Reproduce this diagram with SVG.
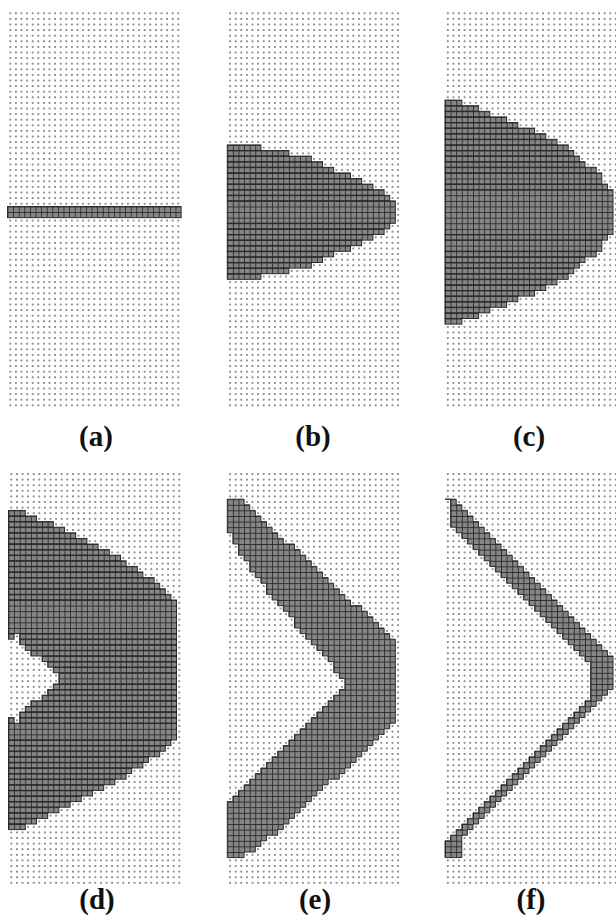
<svg xmlns="http://www.w3.org/2000/svg" width="616" height="916" viewBox="0 0 616 916">
  <defs>
    <!-- lattice point at the centre of every cell -->
    <pattern id="dots" width="1" height="1" patternUnits="userSpaceOnUse">
      <rect x=".36" y=".36" width=".28" height=".28" fill="#5a5a5a"/>
    </pattern>
    <!-- occupied cell: grey face with dark cell border -->
    <pattern id="cells" width="1" height="1" patternUnits="userSpaceOnUse">
      <rect width="1" height="1" fill="#262626"/>
      <rect x=".15" y=".15" width=".85" height=".85" fill="#858585"/>
    </pattern>
  </defs>
  <style>
    .grid{fill:url(#dots)}
    .on rect,.on path{fill:url(#cells);stroke:#262626;stroke-width:.17}
    .lbl{font-family:"Liberation Serif","Times New Roman",serif;font-weight:bold;font-size:29px;fill:#111;text-anchor:middle}
  </style>
  <rect width="616" height="916" fill="#fff"/>

  <!-- (a) initial line of cells -->
  <g id="panel-a" transform="translate(7.5,10.5) scale(5.6)">
    <rect class="grid" width="31" height="71"/>
    <g class="on">
      <rect x="0" y="35" width="31" height="2"/>
    </g>
  </g>

  <!-- (b) -->
  <g id="panel-b" transform="translate(227.3,10.5) scale(5.6)">
    <rect class="grid" width="31" height="71"/>
    <g class="on">
      <rect y="24" width="6" height="1"/>
      <rect y="25" width="11" height="1"/>
      <rect y="26" width="15" height="1"/>
      <rect y="27" width="17" height="1"/>
      <rect y="28" width="19" height="1"/>
      <rect y="29" width="22" height="1"/>
      <rect y="30" width="24" height="1"/>
      <rect y="31" width="26" height="1"/>
      <rect y="32" width="28" height="1"/>
      <rect y="33" width="29" height="1"/>
      <rect y="34" width="30" height="4"/>
      <rect y="38" width="29" height="1"/>
      <rect y="39" width="28" height="1"/>
      <rect y="40" width="26" height="1"/>
      <rect y="41" width="24" height="1"/>
      <rect y="42" width="22" height="1"/>
      <rect y="43" width="19" height="1"/>
      <rect y="44" width="17" height="1"/>
      <rect y="45" width="15" height="1"/>
      <rect y="46" width="11" height="1"/>
      <rect y="47" width="6" height="1"/>
    </g>
  </g>

  <!-- (c) -->
  <g id="panel-c" transform="translate(445,10.5) scale(5.6)">
    <rect class="grid" width="31" height="71"/>
    <g class="on">
      <rect y="16" width="3" height="1"/>
      <rect y="17" width="6" height="1"/>
      <rect y="18" width="8" height="1"/>
      <rect y="19" width="11" height="1"/>
      <rect y="20" width="13" height="1"/>
      <rect y="21" width="16" height="1"/>
      <rect y="22" width="18" height="1"/>
      <rect y="23" width="20" height="1"/>
      <rect y="24" width="22" height="1"/>
      <rect y="25" width="23" height="1"/>
      <rect y="26" width="24" height="1"/>
      <rect y="27" width="25" height="1"/>
      <rect y="28" width="27" height="1"/>
      <rect y="29" width="28" height="2"/>
      <rect y="31" width="29" height="1"/>
      <rect y="32" width="30" height="8"/>
      <rect y="40" width="29" height="1"/>
      <rect y="41" width="28" height="2"/>
      <rect y="43" width="27" height="1"/>
      <rect y="44" width="25" height="1"/>
      <rect y="45" width="24" height="1"/>
      <rect y="46" width="23" height="1"/>
      <rect y="47" width="22" height="1"/>
      <rect y="48" width="20" height="1"/>
      <rect y="49" width="18" height="1"/>
      <rect y="50" width="16" height="1"/>
      <rect y="51" width="13" height="1"/>
      <rect y="52" width="11" height="1"/>
      <rect y="53" width="8" height="1"/>
      <rect y="54" width="6" height="1"/>
      <rect y="55" width="3" height="1"/>
    </g>
  </g>

  <!-- (d) -->
  <g id="panel-d" transform="translate(8.5,471.2) scale(5.6)">
    <rect class="grid" width="31" height="74"/>
    <g class="on">
      <rect y="7" width="3" height="1"/>
      <rect y="8" width="5" height="1"/>
      <rect y="9" width="8" height="1"/>
      <rect y="10" width="10" height="1"/>
      <rect y="11" width="12" height="1"/>
      <rect y="12" width="14" height="1"/>
      <rect y="13" width="16" height="1"/>
      <rect y="14" width="18" height="1"/>
      <rect y="15" width="20" height="1"/>
      <rect y="16" width="21" height="1"/>
      <rect y="17" width="23" height="1"/>
      <rect y="18" width="24" height="1"/>
      <rect y="19" width="26" height="1"/>
      <rect y="20" width="27" height="1"/>
      <rect y="21" width="28" height="1"/>
      <rect y="22" width="29" height="1"/>
      <rect y="23" width="30" height="6"/>
      <rect x="0" y="29" width="1" height="1"/>
      <rect x="2" y="29" width="28" height="1"/>
      <rect x="2" y="30" width="28" height="1"/>
      <rect x="3" y="31" width="27" height="1"/>
      <rect x="4" y="32" width="26" height="1"/>
      <rect x="6" y="33" width="24" height="1"/>
      <rect x="7" y="34" width="23" height="1"/>
      <rect x="8" y="35" width="22" height="1"/>
      <rect x="9" y="36" width="21" height="2"/>
      <rect x="8" y="38" width="22" height="1"/>
      <rect x="7" y="39" width="23" height="1"/>
      <rect x="6" y="40" width="24" height="1"/>
      <rect x="4" y="41" width="26" height="1"/>
      <rect x="3" y="42" width="27" height="1"/>
      <rect x="2" y="43" width="28" height="1"/>
      <rect x="0" y="44" width="1" height="1"/>
      <rect x="2" y="44" width="28" height="1"/>
      <rect y="45" width="30" height="3"/>
      <rect y="48" width="29" height="1"/>
      <rect y="49" width="28" height="1"/>
      <rect y="50" width="27" height="1"/>
      <rect y="51" width="25" height="1"/>
      <rect y="52" width="24" height="1"/>
      <rect y="53" width="22" height="1"/>
      <rect y="54" width="21" height="1"/>
      <rect y="55" width="19" height="1"/>
      <rect y="56" width="17" height="1"/>
      <rect y="57" width="15" height="1"/>
      <rect y="58" width="13" height="1"/>
      <rect y="59" width="11" height="1"/>
      <rect y="60" width="9" height="1"/>
      <rect y="61" width="7" height="1"/>
      <rect y="62" width="5" height="1"/>
      <rect y="63" width="3" height="1"/>
    </g>
  </g>

  <!-- (e) -->
  <g id="panel-e" transform="translate(227.3,471.2) scale(5.6)">
    <rect class="grid" width="31" height="74"/>
    <g class="on">
      <path d="M0 5H3V6H4V7H5V8H6V9H7V10H8V11H9V12H10V13H12V14H13V15H14V16H15V17H16V18H17V19H18V20H19V21H20V22H21V23H22V24H24V25H25V26H26V27H27V28H28V29H29V30H30V45H29V46H28V47H27V48H26V49H25V50H24V51H23V52H22V53H21V54H20V55H18V56H17V57H16V58H15V59H14V60H13V61H12V62H11V63H10V64H9V65H7V66H6V67H5V68H3V69H0V59H1V58H2V57H3V56H4V55H5V54H6V53H7V52H8V51H9V50H10V49H11V48H12V47H13V46H14V45H15V44H16V43H17V42H18V41H19V40H20V39H21V37H20V36H19V34H18V33H17V32H16V31H15V30H14V29H13V28H12V26H11V25H10V24H9V23H8V22H7V20H6V19H5V18H4V16H3V15H2V13H1V11H0Z"/>
    </g>
  </g>

  <!-- (f) -->
  <g id="panel-f" transform="translate(445,471.2) scale(5.6)">
    <rect class="grid" width="31" height="74"/>
    <g class="on">
      <path d="M0 5H2v1h1v1h1v1h1v1h1v1h1v1h1v1h1v1h1v1h1v1h1v1h1v1h1v1h1v1h1v1h1v1h1v1h1v1h1v1h1v1h1v1h1v1h1v1h1v1h1v1h1v1h1v1h1v1h1V39H29v1h-1v1h-1v1h-1v1h-1v1h-1v1h-1v1h-1v1h-1v1h-1v1h-1v1h-1v1h-1v1h-1v1h-1v1h-1v1h-1v1h-1v1h-1v1h-1v1h-1v1h-1v1h-1v1h-1v1h-1v1h-1v1h-1V69H0V66h1v-1h1v-1h1v-1h1v-1h1v-1h1v-1h1v-1h1v-1h1v-1h1v-1h1v-1h1v-1h1v-1h1v-1h1v-1h1v-1h1v-1h1v-1h1v-1h1v-1h1v-1h1v-1h1v-1h1v-1h1v-1h1V34h-1v-1h-1v-1h-1v-1h-1v-1h-1v-1h-1v-1h-1v-1h-1v-1h-1v-1h-1v-1h-1v-1h-1v-1h-1v-1h-1v-1h-1v-1h-1v-1h-1v-1h-1v-1h-1v-1h-1v-1h-1v-1h-1v-1h-1v-1h-1v-1h-1V5Z"/>
    </g>
  </g>

  <!-- panel captions -->
  <text class="lbl" x="96" y="446">(a)</text>
  <text class="lbl" x="313" y="446">(b)</text>
  <text class="lbl" x="529" y="446">(c)</text>
  <text class="lbl" x="97" y="909">(d)</text>
  <text class="lbl" x="315" y="909">(e)</text>
  <text class="lbl" x="531" y="909">(f)</text>
</svg>
